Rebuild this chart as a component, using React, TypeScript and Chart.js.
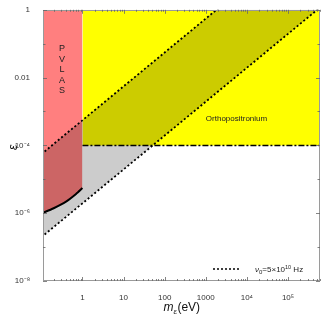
import React, { useEffect, useRef } from 'react';
import { Chart, registerables } from 'chart.js';

Chart.register(...registerables);

const FONT = '"Liberation Sans", Arial, sans-serif';

// axis ranges
const X_MIN = 0.11;
const X_MAX = 6e5;
const Y_MIN = 1e-8;
const Y_MAX = 1;

// PVLAS exclusion boundary (solid black curve)
const pvlasMass = [0.1, 0.2, 0.4, 0.7, 1.0];
const pvlasEps = [0.98e-6, 1.4e-6, 2.2e-6, 3.7e-6, 5.5e-6];

// Orthopositronium bound
const orthoMass = [1, 6e5];
const orthoEps = [1e-4, 1e-4];

// nu0 = 5e10 Hz band (two dotted lines)
const bandMass = [0.1, 6e5];
const bandUpperEps = [5.5e-5, 330];
const bandLowerEps = [1.95e-7, 1.17];

// tick labels
const xTickValues = [1, 10, 100, 1000, 1e4, 1e5];
const xTickLabels = ['1', '10', '100', '1000', '10⁴', '10⁵'];
const yTickValues = [1, 1e-2, 1e-4, 1e-6, 1e-8];
const yTickLabels = ['1', '0.01', '10⁻⁴', '10⁻⁶', '10⁻⁸'];

const toXY = (xs: number[], ys: number[]) => xs.map((x, i) => ({ x, y: ys[i] }));

const overlay = {
  id: 'overlay',
  afterDraw(chart: any) {
    const { ctx, chartArea: a, scales } = chart;
    const xs = scales.x;
    const ys = scales.y;
    ctx.save();
    // frame
    ctx.strokeStyle = '#9a9a9a';
    ctx.lineWidth = 1;
    ctx.strokeRect(Math.round(a.left) + 0.5, Math.round(a.top) + 0.5, Math.round(a.right - a.left) - 1, Math.round(a.bottom - a.top) - 1);
    // ticks
    ctx.strokeStyle = '#666';
    ctx.lineWidth = 0.8;
    const vline = (px: number, len: number) => {
      ctx.beginPath();
      ctx.moveTo(px, a.bottom);
      ctx.lineTo(px, a.bottom - len);
      ctx.moveTo(px, a.top);
      ctx.lineTo(px, a.top + len);
      ctx.stroke();
    };
    const hline = (py: number, len: number) => {
      ctx.beginPath();
      ctx.moveTo(a.left, py);
      ctx.lineTo(a.left + len, py);
      ctx.moveTo(a.right, py);
      ctx.lineTo(a.right - len, py);
      ctx.stroke();
    };
    for (let e = -1; e <= 5; e++) {
      for (let k = 1; k <= 9; k++) {
        const v = k * Math.pow(10, e);
        if (v < X_MIN || v > X_MAX) continue;
        vline(Math.round(xs.getPixelForValue(v)) + 0.5, k === 1 ? 4 : 2);
      }
    }
    for (let e = -8; e <= 0; e++) {
      const v = Math.pow(10, e);
      hline(Math.round(ys.getPixelForValue(v)) + 0.5, e % 2 === 0 ? 4 : 2.5);
    }

    ctx.fillStyle = '#222';
    // PVLAS vertical label
    ctx.font = `9px ${FONT}`;
    ctx.textAlign = 'center';
    ctx.textBaseline = 'middle';
    const px = xs.getPixelForValue(0.32);
    const pyc = ys.getPixelForValue(0.017);
    'PVLAS'.split('').forEach((ch, i) => {
      ctx.fillText(ch, px, pyc + (i - 2) * 10.5);
    });
    // Orthopositronium
    ctx.font = `8px ${FONT}`;
    ctx.fillText('Orthopositronium', xs.getPixelForValue(5600), ys.getPixelForValue(6.2e-4));

    // legend
    const ly = a.bottom - 12;
    ctx.strokeStyle = '#000';
    ctx.lineWidth = 1.6;
    ctx.setLineDash([2, 2]);
    ctx.beginPath();
    ctx.moveTo(a.right - 107, ly);
    ctx.lineTo(a.right - 80, ly);
    ctx.stroke();
    ctx.setLineDash([]);
    ctx.textAlign = 'left';
    ctx.textBaseline = 'alphabetic';
    let tx = a.right - 65;
    const base = ly + 3;
    const part = (t: string, font: string, dy: number) => {
      ctx.font = font;
      ctx.fillText(t, tx, base + dy);
      tx += ctx.measureText(t).width;
    };
    part('ν', `italic 8px ${FONT}`, 0);
    part('0', `6px ${FONT}`, 1.5);
    part('=5×10', `8px ${FONT}`, 0);
    part('10', `5.5px ${FONT}`, -3.5);
    part(' Hz', `8px ${FONT}`, 0);

    // x title
    ctx.fillStyle = '#111';
    const cx = (a.left + a.right) / 2;
    const fm = `italic 12px ${FONT}`;
    const fs = `italic 8px ${FONT}`;
    const fr = `12px ${FONT}`;
    ctx.font = fm;
    const w1 = ctx.measureText('m').width;
    ctx.font = fs;
    const w2 = ctx.measureText('ε').width;
    ctx.font = fr;
    const w3 = ctx.measureText('(eV)').width;
    tx = cx - (w1 + w2 + w3) / 2;
    const xb = a.bottom + 30;
    ctx.font = fm;
    ctx.fillText('m', tx, xb);
    tx += w1;
    ctx.font = fs;
    ctx.fillText('ε', tx, xb + 2.5);
    tx += w2 + 0.5;
    ctx.font = fr;
    ctx.fillText('(eV)', tx, xb);

    // y title
    ctx.save();
    ctx.translate(14, (a.top + a.bottom) / 2 + 2);
    ctx.rotate(-Math.PI / 2);
    ctx.textAlign = 'center';
    ctx.textBaseline = 'middle';
    ctx.font = `italic 12px ${FONT}`;
    ctx.fillText('ε', 0, 0);
    ctx.restore();

    ctx.restore();
  },
};

export default function App() {
  const ref = useRef<HTMLCanvasElement | null>(null);
  useEffect(() => {
    if (!ref.current) return;
    const chart = new Chart(ref.current, {
      type: 'line',
      data: {
        datasets: [
          {
            label: 'band upper',
            data: toXY(bandMass, bandUpperEps),
            borderColor: '#000',
            borderWidth: 1.8,
            borderDash: [2, 2.3],
            pointRadius: 0,
            fill: { target: '+1' },
            backgroundColor: 'rgba(0,0,0,0.2)',
          },
          {
            label: 'band lower',
            data: toXY(bandMass, bandLowerEps),
            borderColor: '#000',
            borderWidth: 1.8,
            borderDash: [2, 2.3],
            pointRadius: 0,
            fill: false,
          },
          {
            label: 'PVLAS',
            data: toXY(pvlasMass, pvlasEps),
            borderColor: '#000',
            borderWidth: 2,
            pointRadius: 0,
            tension: 0.2,
            fill: 'end',
            backgroundColor: '#ff7f7f',
          },
          {
            label: 'Orthopositronium',
            data: toXY(orthoMass, orthoEps),
            borderColor: '#000',
            borderWidth: 1.5,
            borderDash: [6, 2, 2, 2],
            pointRadius: 0,
            fill: 'end',
            backgroundColor: '#ffff00',
          },
        ],
      },
      options: {
        animation: false,
        responsive: true,
        maintainAspectRatio: false,
        layout: { padding: { top: 5, right: 5, left: 0, bottom: 0 } },
        plugins: { legend: { display: false }, tooltip: { enabled: false } },
        scales: {
          x: {
            type: 'logarithmic',
            min: X_MIN,
            max: X_MAX,
            afterBuildTicks: (s: any) => {
              s.ticks = xTickValues.map((v) => ({ value: v }));
            },
            afterFit: (s: any) => {
              s.height = 42;
            },
            ticks: {
              autoSkip: false,
              maxRotation: 0,
              padding: 4,
              color: '#333',
              font: { size: 8, family: FONT },
              callback: (v: any) => {
                const i = xTickValues.indexOf(Number(v));
                return i >= 0 ? xTickLabels[i] : '';
              },
            },
            grid: { display: false },
            border: { display: false },
          },
          y: {
            type: 'logarithmic',
            min: Y_MIN,
            max: Y_MAX,
            afterBuildTicks: (s: any) => {
              s.ticks = yTickValues.map((v) => ({ value: v }));
            },
            afterFit: (s: any) => {
              s.width = 43;
            },
            ticks: {
              autoSkip: false,
              padding: 5,
              color: '#333',
              font: { size: 8, family: FONT },
              callback: (v: any) => {
                const i = yTickValues.findIndex((t) => Math.abs(Math.log10(t) - Math.log10(Number(v))) < 1e-6);
                return i >= 0 ? yTickLabels[i] : '';
              },
            },
            grid: { display: false },
            border: { display: false },
          },
        },
      },
      plugins: [overlay],
    });
    return () => chart.destroy();
  }, []);
  return (
    <div style={{ position: 'fixed', left: 0, top: 0, width: 325, height: 323, background: '#fff' }}>
      <canvas ref={ref} />
    </div>
  );
}
